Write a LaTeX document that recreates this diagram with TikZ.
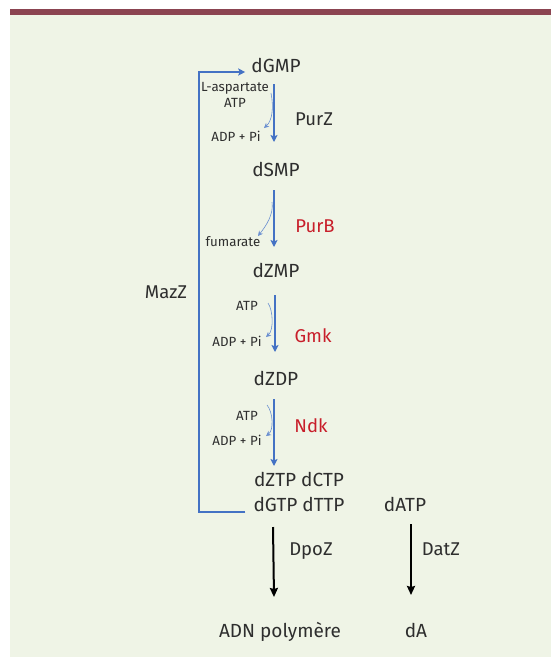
\documentclass[tikz,border=0pt]{standalone}
\usepackage{fontspec}
\setmainfont{Fira Sans}
\usetikzlibrary{arrows.meta}
\definecolor{bg}{HTML}{EFF4E6}
\definecolor{barred}{HTML}{8B4451}
\definecolor{arrblue}{HTML}{4472C4}
\definecolor{thinblue}{HTML}{6A8FD0}
\definecolor{enzred}{HTML}{C81E2A}
\definecolor{txt}{HTML}{2E2E2E}
\tikzset{
  met/.style={inner sep=0pt, anchor=base, text=txt, font=\fontsize{19}{21}\selectfont},
  small/.style={inner sep=0pt, anchor=base, text=txt, font=\fontsize{13.3}{15}\selectfont},
  enz/.style={inner sep=0pt, anchor=base, text=txt, font=\fontsize{18.5}{20}\selectfont},
  enzr/.style={enz, text=enzred},
  bigarrow/.style={draw=arrblue, line width=2pt, -{Stealth[length=7pt,width=7pt,inset=1.5pt]}},
  looparrow/.style={draw=arrblue, line width=2pt, -{Stealth[length=7pt,width=7pt,inset=1.5pt]}},
  thinarrow/.style={draw=thinblue, line width=0.6pt, -{Stealth[length=5pt,width=5pt]}},
  blackarrow/.style={draw=black, line width=2pt, -{Stealth[length=9pt,width=8pt,inset=1pt]}},
}
\begin{document}
\begin{tikzpicture}[x=1pt,y=-1pt]
\useasboundingbox (0,0) rectangle (551,657);
\fill[bg] (10,9) rectangle (551,657);
\fill[barred] (10,9) rectangle (551,15);

% metabolites
\node[met] (dGMP) at (276,72) {dGMP};
\node[met] (dSMP) at (276,176) {dSMP};
\node[met] (dZMP) at (276,277) {dZMP};
\node[met] (dZDP) at (276,385) {dZDP};
\node[met] (dZTP) at (299,486) {dZTP dCTP};
\node[met] (dGTP) at (299,511) {dGTP dTTP};
\node[met] (dATP) at (405,511) {dATP};
\node[met] (ADN) at (280,637) {ADN polymère};
\node[met] (dA) at (416,637) {dA};

% enzymes
\node[enz] (PurZ) at (314,125) {PurZ};
\node[enzr] (PurB) at (315,232) {PurB};
\node[enzr] (Gmk) at (313,342) {Gmk};
\node[enzr] (Ndk) at (311,432) {Ndk};
\node[enz] (DpoZ) at (311,555) {DpoZ};
\node[enz] (DatZ) at (441,555) {DatZ};
\node[enz] (MazZ) at (166,298) {MazZ};

% co-substrates
\node[small] (asp) at (235,91) {L-aspartate};
\node[small] (atpA) at (235,107) {ATP};
\node[small] (adpA) at (236,141) {ADP + Pi};
\node[small] (fum) at (233,246) {fumarate};
\node[small] (atpB) at (247,310) {ATP};
\node[small] (adpB) at (237,346) {ADP + Pi};
\node[small] (atpC) at (247,420) {ATP};
\node[small] (adpC) at (237,445) {ADP + Pi};

% main blue arrows
\draw[bigarrow] ([xshift=-2pt,yshift=-12pt]dGMP.base) -- ([xshift=-2pt,yshift=34pt]dSMP.base);
\draw[bigarrow] ([xshift=-2pt,yshift=-14pt]dSMP.base) -- ([xshift=-2pt,yshift=30pt]dZMP.base);
\draw[bigarrow] ([xshift=-1pt,yshift=-18pt]dZMP.base) -- ([xshift=-1pt,yshift=33pt]dZDP.base);
\draw[bigarrow] ([xshift=-2pt,yshift=-14pt]dZDP.base) -- ([xshift=-2pt,yshift=20pt]dZTP.base -| dZDP.base);

% side reactions (thin curves)
\coordinate (sA) at (271,93);
\coordinate (eA) at (264,128);
\draw[thinarrow] (sA) .. controls (274,108) and (272,121) .. (eA);
\coordinate (sB) at (272,202);
\coordinate (eB) at (258,236);
\draw[thinarrow] (sB) .. controls (274,214) and (266,226) .. (eB);
\coordinate (sC) at (268,303);
\coordinate (eC) at (266,337);
\draw[thinarrow] (sC) .. controls (273,310) and (274,330) .. (eC);
\coordinate (sD) at (267,405);
\coordinate (eD) at (266,436);
\draw[thinarrow] (sD) .. controls (273,412) and (274,430) .. (eD);

% MazZ loop
\draw[looparrow] ([xshift=-8pt,yshift=-1pt]dGTP.base west) -- ++(-46,0) |- ([xshift=-6pt]dGMP.base west);

% black arrows
\draw[blackarrow] ([xshift=-26pt,yshift=-16pt]dGTP.base) -- ([xshift=-6pt,yshift=40pt]ADN.base);
\draw[blackarrow] ([xshift=6pt,yshift=-13pt]dATP.base) -- ([xshift=-5pt,yshift=42pt]dA.base);
\end{tikzpicture}
\end{document}
